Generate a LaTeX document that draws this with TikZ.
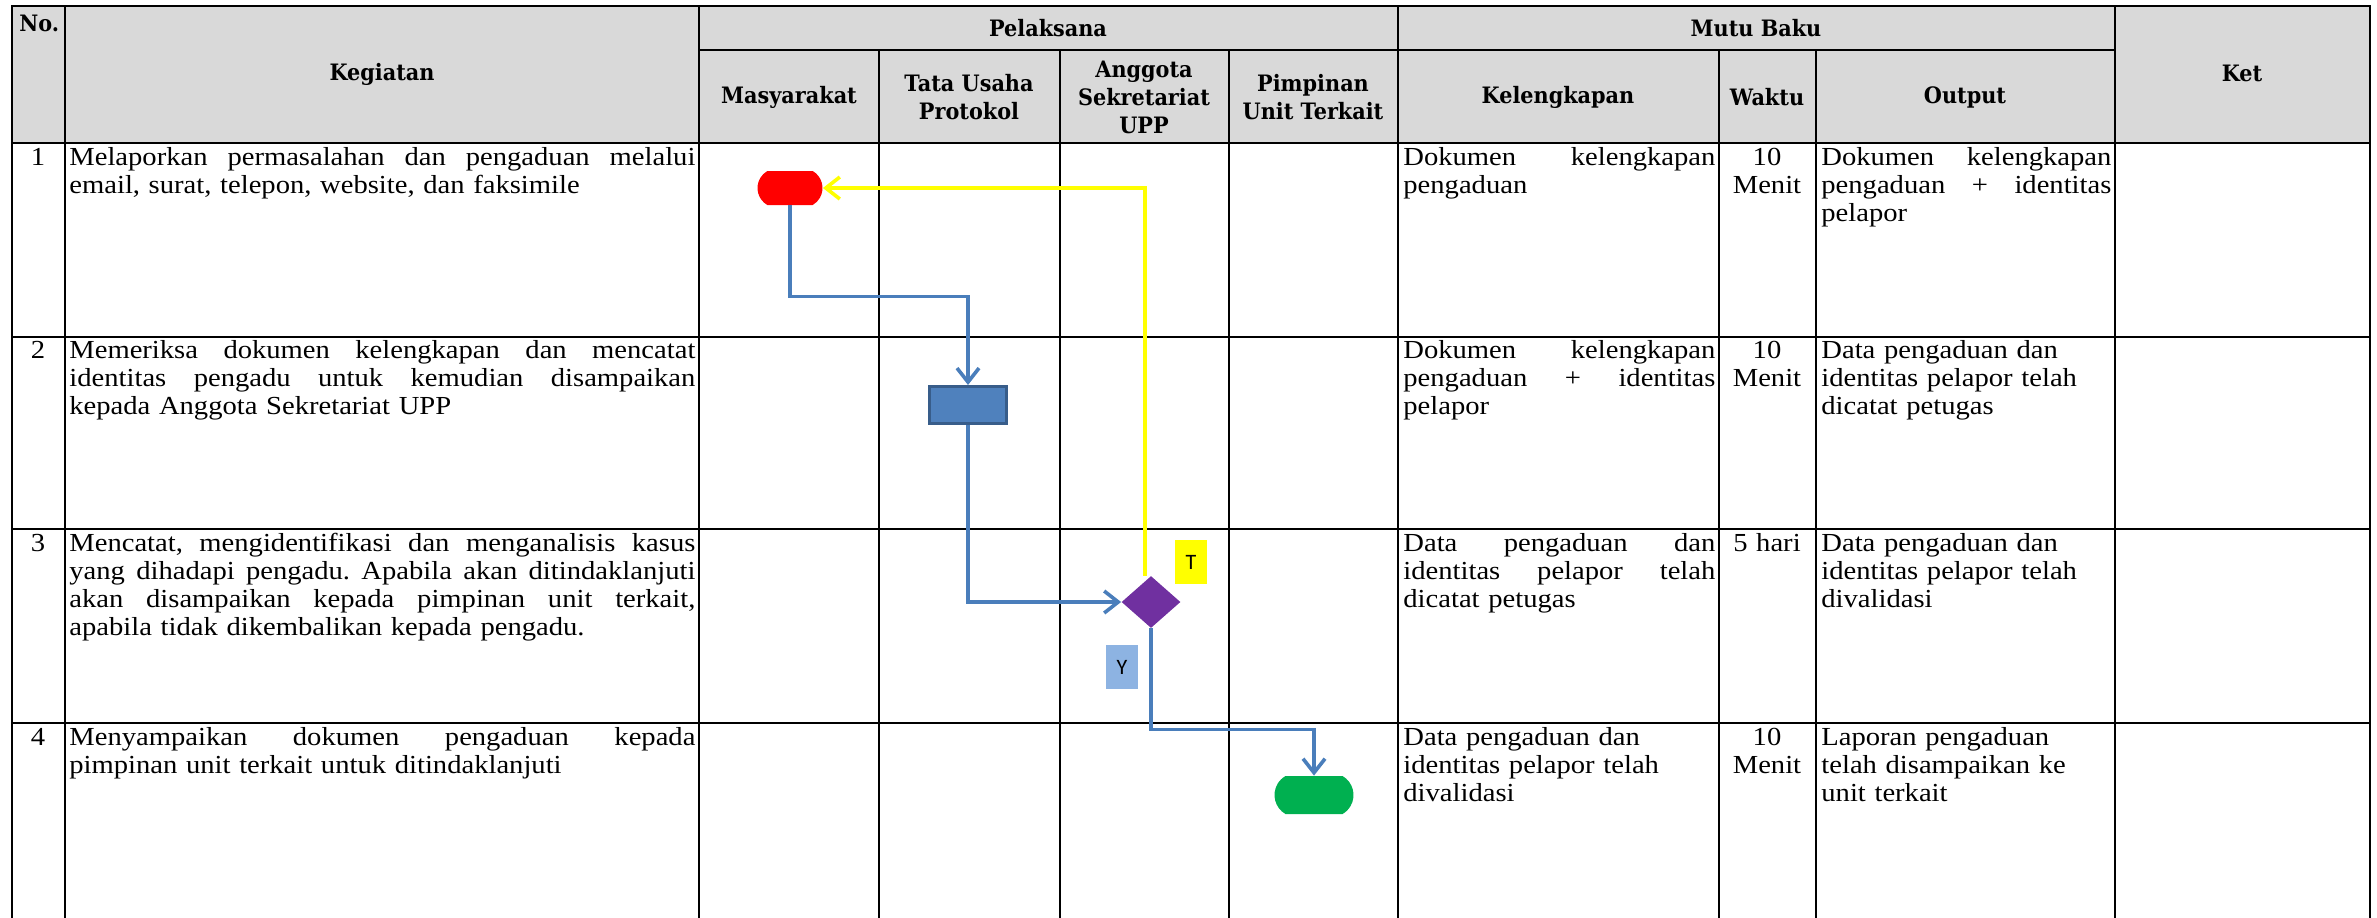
\documentclass[tikz,border=0pt]{standalone}
\usepackage{fontspec}
\setmainfont{Liberation Serif}[FakeStretch=1.1]
\newfontfamily\hdrfont{DejaVu Serif}[FakeStretch=0.92]
\newfontfamily\lblfont{Carlito}
\usepackage{xcolor}
\usepackage{tikz}
\usetikzlibrary{calc,arrows.meta,shapes.geometric,shapes.misc,positioning}

\definecolor{hdrgray}{HTML}{D9D9D9}
\definecolor{flowblue}{HTML}{4A7EBB}
\definecolor{boxblue}{HTML}{4F81BD}
\definecolor{boxedge}{HTML}{385D8A}
\definecolor{decpurple}{HTML}{7030A0}
\definecolor{endgreen}{HTML}{00B050}
\definecolor{ytag}{HTML}{8DB3E2}
\definecolor{ttag}{HTML}{FFFF00}

\frenchspacing
%one justified line, spread over the cell
\newcommand{\jl}[1]{\leavevmode\hbox to \hsize{\spaceskip=\fontdimen2\font plus 1fil minus .1em\relax#1}}

\begin{document}
\begin{tikzpicture}[x=0.5pt,y=-0.5pt]

\tikzset{rule/.style={line width=1.3pt, line cap=rect},
hdr/.style={font=\hdrfont\bfseries\fontsize{11.3}{14}\selectfont, align=center, inner sep=0pt},
cell/.style={anchor=base west, inner sep=0pt, text width=#1, align=left, font=\fontsize{13}{14}\selectfont},
%default width is the kegiatan column
cell/.default={313pt},
waktu/.style={anchor=base, inner sep=0pt, text width=48pt, align=center, font=\fontsize{13}{14}\selectfont},
num/.style={anchor=base, inner sep=0pt, font=\fontsize{13}{14}\selectfont},
term/.style={rounded rectangle, rounded rectangle arc length=120, inner sep=0pt, draw=none},
proc/.style={rectangle, fill=boxblue, draw=boxedge, line width=1.5pt, inner sep=0pt, minimum width=38.5pt, minimum height=18.5pt},
dec/.style={diamond, fill=decpurple, inner sep=0pt, minimum width=29.5pt, minimum height=26pt},
tag/.style={font=\lblfont\fontsize{11}{13}\selectfont, inner sep=0pt, minimum width=16pt, minimum height=22pt},
flow/.style={draw=flowblue, line width=1.8pt, -{Straight Barb[length=7pt,width=11pt]}},
back/.style={draw=ttag, line width=1.8pt, -{Straight Barb[length=7pt,width=11pt]}}}

\useasboundingbox (0,0) rectangle (2377,917);

%header
\fill[hdrgray] (12,6) rectangle (2370,143);

\foreach \y in {6,143,337,529,723}
    \draw[rule] (12,\y) -- (2370,\y);
\draw[rule] (699,50) -- (2115,50);

\foreach \x in {12,65,699,1398,2115,2370}
    \draw[rule] (\x,6) -- (\x,917);
\foreach \x in {879,1060,1229,1719,1816}
    \draw[rule] (\x,50) -- (\x,917);

\node[hdr, anchor=north west] (no) at (19,15) {No.};
\node[hdr] (kegiatan) at (382,74) {Kegiatan};
\node[hdr] (pelaksana) at (1048,28) {Pelaksana};
\node[hdr] (mutu) at (1756,28) {Mutu Baku};
\node[hdr] (ket) at (2242,73) {Ket};
\node[hdr] (masy) at (789,97) {Masyarakat};
\node[hdr] (tu) at (969,97) {Tata Usaha\\Protokol};
\node[hdr] (angg) at (1144,97) {Anggota\\Sekretariat\\UPP};
\node[hdr] (pimp) at (1313,97) {Pimpinan\\Unit Terkait};
\node[hdr] (lengkap) at (1558,97) {Kelengkapan};
\node[hdr] (waktu) at (1767,97) {Waktu};
\node[hdr] (output) at (1965,97) {Output};

%rows
\node[num] (n1) at (38,165) {1};
\node[cell] (k1) at (69,165) {\jl{Melaporkan permasalahan dan pengaduan melalui}\\email, surat, telepon, website, dan faksimile};
\node[cell=156pt] (l1) at (1403,165) {\jl{Dokumen kelengkapan}\\pengaduan};
\node[waktu] (w1) at (1767,165) {10\\Menit};
\node[cell=145pt] (o1) at (1821,165) {\jl{Dokumen kelengkapan}\\\jl{pengaduan + identitas}\\pelapor};

\node[num] (n2) at (38,358) {2};
\node[cell] (k2) at (69,358) {\jl{Memeriksa dokumen kelengkapan dan mencatat}\\\jl{identitas pengadu untuk kemudian disampaikan}\\kepada Anggota Sekretariat UPP};
\node[cell=156pt] (l2) at (1403,358) {\jl{Dokumen kelengkapan}\\\jl{pengaduan + identitas}\\pelapor};
\node[waktu] (w2) at (1767,358) {10\\Menit};
\node[cell=145pt] (o2) at (1821,358) {Data pengaduan dan\\identitas pelapor telah\\dicatat petugas};

\node[num] (n3) at (38,551) {3};
\node[cell] (k3) at (69,551) {\jl{Mencatat, mengidentifikasi dan menganalisis kasus}\\\jl{yang dihadapi pengadu. Apabila akan ditindaklanjuti}\\\jl{akan disampaikan kepada pimpinan unit terkait,}\\apabila tidak dikembalikan kepada pengadu.};
\node[cell=156pt] (l3) at (1403,551) {\jl{Data pengaduan dan}\\\jl{identitas pelapor telah}\\dicatat petugas};
\node[waktu] (w3) at (1767,551) {5 hari};
\node[cell=145pt] (o3) at (1821,551) {Data pengaduan dan\\identitas pelapor telah\\divalidasi};

\node[num] (n4) at (38,745) {4};
\node[cell] (k4) at (69,745) {\jl{Menyampaikan dokumen pengaduan kepada}\\pimpinan unit terkait untuk ditindaklanjuti};
\node[cell=156pt] (l4) at (1403,745) {Data pengaduan dan\\identitas pelapor telah\\divalidasi};
\node[waktu] (w4) at (1767,745) {10\\Menit};
\node[cell=145pt] (o4) at (1821,745) {Laporan pengaduan\\telah disampaikan ke\\unit terkait};

%now the flow
\node[term, fill=red, minimum width=32.5pt, minimum height=17pt] (start) at (790,188) {};
\node[proc] (check) at (968,405) {};
\node[dec] (decide) at (1151,602) {};
\node[term, fill=endgreen, minimum width=39.5pt, minimum height=19pt] (finish) at (1314,795) {};

\draw[flow] (start.south) -- ++(0,91) -| (check.north);
\draw[flow] (check.south) |- (decide.west);
\draw[flow] (decide.south) -- ++(0,101) -| (finish.north);
\draw[back] ([xshift=-3pt]decide.north) |- (start.east);

\node[tag, fill=ttag] (tlbl) at (1191,562) {T};
\node[tag, fill=ytag] (ylbl) at (1122,667) {Y};

\end{tikzpicture}
\end{document}
